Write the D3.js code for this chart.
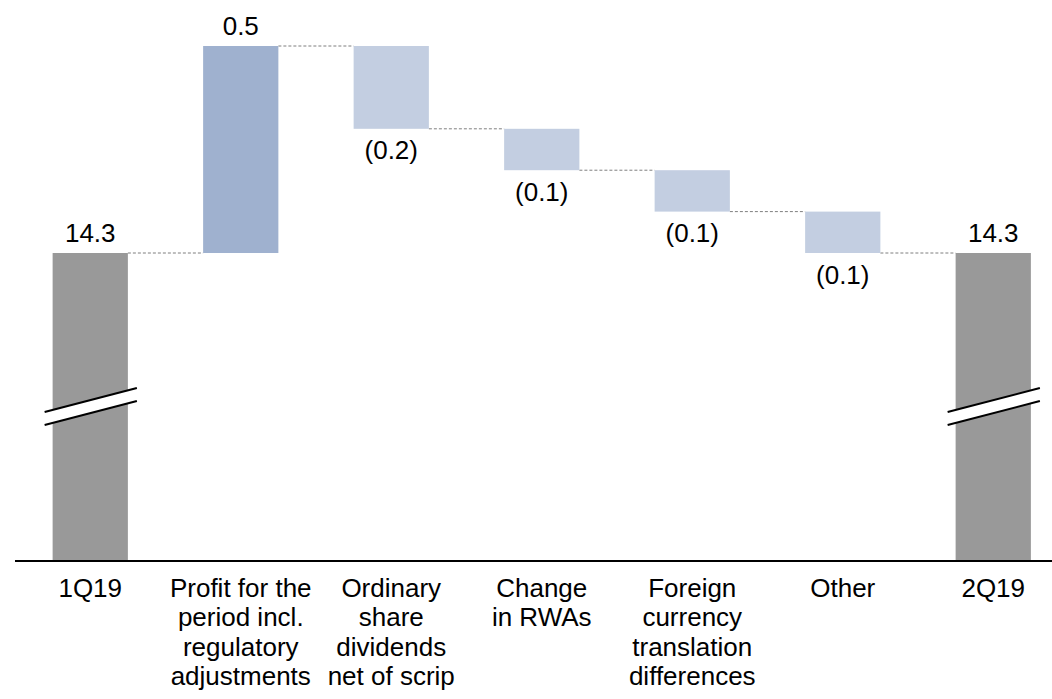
<!DOCTYPE html>
<html><head><meta charset="utf-8">
<script src="https://cdn.jsdelivr.net/npm/d3@7"></script>
<style>body{margin:0;background:#fff}svg{display:block}text{font-family:"Liberation Sans",Arial,sans-serif;fill:#000}</style>
</head><body>
<svg id="c" width="1052" height="699"></svg>
<script>
const categories = [
  ["1Q19"],
  ["Profit for the","period incl.","regulatory","adjustments"],
  ["Ordinary","share","dividends","net of scrip"],
  ["Change","in RWAs"],
  ["Foreign","currency","translation","differences"],
  ["Other"],
  ["2Q19"]
];
const kinds = ["total","delta","delta","delta","delta","delta","total"];
const values = [14.3, 0.5, -0.2, -0.1, -0.1, -0.1, 14.3];
const valueLabels = ["14.3","0.5","(0.2)","(0.1)","(0.1)","(0.1)","14.3"];

const svg = d3.select("#c");
const keys = categories.map((c,i)=>i);
const x = d3.scaleBand().domain(keys).range([15,1068.5]).paddingInner(0.5).paddingOuter(0.25);
const y = d3.scaleLinear().domain([13.5585,14.8]).range([560,46]);

let run = 0;
const bars = values.map((v,i)=>{
  if(kinds[i]==="total"){ run = v; return {i, lo:null, hi:v, end:v, kind:"total"}; }
  const s = run; run = run + v;
  return {i, lo:Math.min(s,run), hi:Math.max(s,run), end:run, kind: v>=0?"pos":"neg"};
});
const colors = {total:"#999999", pos:"#9FB1CF", neg:"#C3CEE1"};

for(let k=0;k<bars.length-1;k++){
  const lvl = bars[k].end;
  svg.append("line")
    .attr("x1", x(k)+x.bandwidth()).attr("x2", x(k+1))
    .attr("y1", y(lvl)).attr("y2", y(lvl))
    .attr("stroke","#7f7f7f").attr("stroke-width",1).attr("stroke-dasharray","3,2");
}

svg.selectAll("rect.bar").data(bars).join("rect")
  .attr("class","bar")
  .attr("x", d=>x(d.i)).attr("width", x.bandwidth())
  .attr("y", d=>y(d.hi))
  .attr("height", d=> d.kind==="total" ? y.range()[0]-y(d.hi) : y(d.lo)-y(d.hi))
  .attr("fill", d=>colors[d.kind]);

bars.filter(d=>d.kind==="total").forEach(d=>{
  const x0 = x(d.i)-8, x1 = x(d.i)+x.bandwidth()+9;
  const yc = (y.range()[0]+y(d.hi))/2;
  const dy = 12, gap = 6.5;
  svg.append("path")
    .attr("d",`M${x0},${yc+dy-gap}L${x1},${yc-dy-gap}L${x1},${yc-dy+gap}L${x0},${yc+dy+gap}Z`)
    .attr("fill","#fff");
  [-gap,gap].forEach(o=>{
    svg.append("line").attr("x1",x0).attr("y1",yc+dy+o).attr("x2",x1).attr("y2",yc-dy+o)
      .attr("stroke","#000").attr("stroke-width",2);
  });
});

svg.append("line").attr("x1",15).attr("x2",1052).attr("y1",y.range()[0]+1).attr("y2",y.range()[0]+1)
  .attr("stroke","#000").attr("stroke-width",2);

svg.selectAll("text.val").data(bars).join("text")
  .attr("class","val")
  .attr("x", d=>x(d.i)+x.bandwidth()/2)
  .attr("y", d=> d.kind==="neg" ? y(d.lo)+30.5 : y(d.hi)-11.5)
  .attr("text-anchor","middle").attr("font-size","26px")
  .text((d,i)=>valueLabels[i]);

categories.forEach((lines,i)=>{
  const t = svg.append("text").attr("text-anchor","middle").attr("font-size","26px")
    .attr("x", x(i)+x.bandwidth()/2).attr("y", 597);
  lines.forEach((ln,j)=>{
    t.append("tspan").attr("x", x(i)+x.bandwidth()/2).attr("dy", j===0?0:29.4).text(ln);
  });
});
</script>
</body></html>
